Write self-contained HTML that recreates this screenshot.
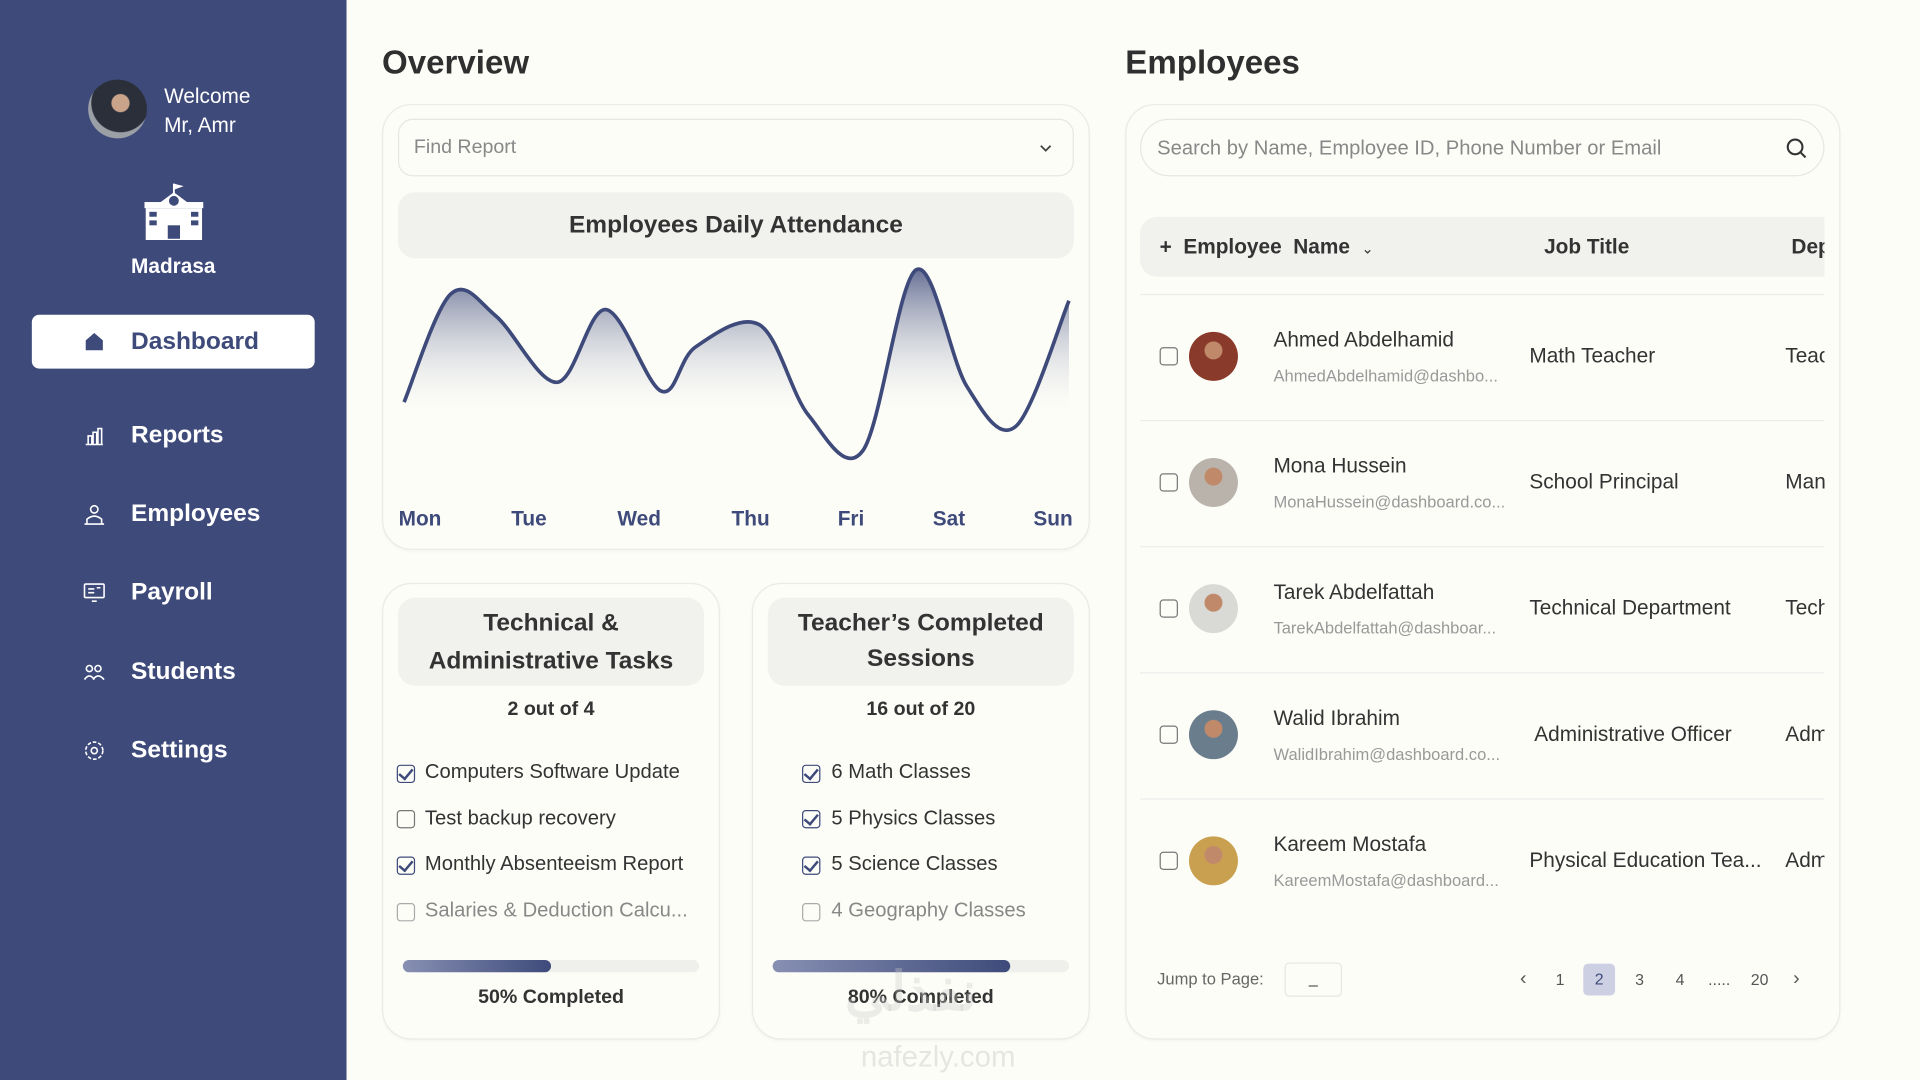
<!DOCTYPE html>
<html><head><meta charset="utf-8">
<style>
*{box-sizing:border-box;margin:0;padding:0}
html,body{width:1920px;height:1080px;overflow:hidden;background:#fdfdf8;font-family:"Liberation Sans",sans-serif}
#root{position:absolute;left:0;top:0;width:1568px;height:882px;transform:scale(1.22449);transform-origin:0 0;background:#fdfdf8}
.abs{position:absolute}
.side{left:0;top:0;width:283px;height:882px;background:#3e4a7a}
.menu{position:absolute;left:107px;color:#fff;font-size:20px;font-weight:bold;transform:translateY(-50%)}
.micon{position:absolute;left:68px;width:18px;height:18px;transform:translateY(-50%);color:#fff}
.card{position:absolute;background:#fdfdf8;border:1.5px solid #ebebe6;border-radius:24px;box-shadow:0 1px 3px rgba(0,0,0,.04)}
.ttl{position:absolute;font-size:27px;font-weight:bold;color:#2f2f2f}
.box{position:absolute;background:#f1f1ee;border-radius:14px;text-align:center;color:#333;font-weight:bold}
.item{position:absolute;font-size:16.5px;color:#333;transform:translateY(-50%)}
.cb{position:absolute;width:15px;height:15px;border:1.5px solid #777;border-radius:3px;transform:translateY(-50%)}
.cbc{border-color:#3e4a7a}
.cbc::after{content:"";position:absolute;left:3px;top:0px;width:5px;height:9px;border:solid #3e4a7a;border-width:0 2px 2px 0;transform:rotate(40deg)}
.pb{position:absolute;height:10px;border-radius:5px;background:#efefec}
.pf{height:10px;border-radius:5px;background:linear-gradient(90deg,#8790b3,#3e4a7a)}
.name{position:absolute;left:1040px;font-size:17px;color:#333;transform:translateY(-50%)}
.mail{position:absolute;left:1040px;font-size:13.5px;color:#999;transform:translateY(-50%)}
.job{position:absolute;left:1249px;font-size:17px;color:#333;transform:translateY(-50%)}
.dep{position:absolute;left:1458px;width:32px;overflow:hidden;white-space:nowrap;font-size:17px;color:#333;transform:translateY(-50%)}
.av{position:absolute;left:971px;width:40px;height:40px;border-radius:50%;transform:translateY(-50%)}
.sep{position:absolute;left:931px;width:559px;height:1px;background:#ececea}
.pg{position:absolute;top:800px;transform:translate(-50%,-50%);font-size:13px;color:#555}
</style></head><body>
<div id="root">
<div class="abs side">
  <div class="abs" style="left:72px;top:65px;width:48px;height:48px;border-radius:50%;background:radial-gradient(circle at 55% 40%,#c9a48a 0 18%,#2b2f3a 20% 60%,#9aa0a6 62%)"></div>
  <div class="abs" style="left:134px;top:67px;color:#fff;font-size:17px;line-height:24px">Welcome<br>Mr, Amr</div>
  <svg class="abs" style="left:116px;top:148px" width="52" height="50" viewBox="0 0 52 50"><path d="M26 2v8" stroke="#fff" stroke-width="1.5"/><path d="M26 2l8 2-8 3z" fill="#fff"/><path d="M14 18L26 9 38 18z" fill="#fff"/><rect x="2" y="17" width="48" height="5" fill="#fff"/><rect x="3" y="22" width="46" height="26" fill="#fff"/><circle cx="26" cy="16" r="4" fill="#3e4a7a"/><rect x="6" y="25" width="6" height="4" fill="#3e4a7a"/><rect x="6" y="32" width="6" height="4" fill="#3e4a7a"/><rect x="40" y="25" width="6" height="4" fill="#3e4a7a"/><rect x="40" y="32" width="6" height="4" fill="#3e4a7a"/><rect x="21" y="36" width="10" height="11" fill="#3e4a7a"/></svg>
  <div class="abs" style="left:0;width:283px;text-align:center;top:208px;color:#fff;font-size:17px;font-weight:bold">Madrasa</div>
  <div class="abs" style="left:26px;top:257px;width:231px;height:44px;background:#fff;border-radius:6px">
    <svg class="abs" style="left:43px;top:14px" width="16" height="16" viewBox="0 0 16 16"><path d="M1 7L8 1l7 6v8H1z" fill="#3e4a7a"/></svg>
    <div class="abs" style="left:81px;top:11px;font-size:20px;font-weight:bold;color:#3e4a7a">Dashboard</div>
  </div>
  <svg class="micon" style="top:356px" viewBox="0 0 18 18"><path d="M2 16h14M4 16V9h3v7M8 16V6h3v10M12 16V3h3v13" stroke="#fff" fill="none" stroke-width="1.3"/></svg>
  <div class="menu" style="top:356px">Reports</div>
  <svg class="micon" style="top:420px" viewBox="0 0 18 18"><circle cx="9" cy="5" r="3" stroke="#fff" fill="none" stroke-width="1.3"/><path d="M3 17v-4q6-5 12 0v4zM1 17h16" stroke="#fff" fill="none" stroke-width="1.3"/></svg>
  <div class="menu" style="top:420px">Employees</div>
  <svg class="micon" style="top:484px" viewBox="0 0 18 18"><rect x="1" y="2" width="16" height="11" rx="1" stroke="#fff" fill="none" stroke-width="1.3"/><path d="M4 6h5M4 9h5M11 5h3M7 16h4" stroke="#fff" stroke-width="1.3"/></svg>
  <div class="menu" style="top:484px">Payroll</div>
  <svg class="micon" style="top:549px" viewBox="0 0 18 18"><circle cx="5" cy="6" r="2.5" stroke="#fff" fill="none" stroke-width="1.3"/><circle cx="12" cy="6" r="2.5" stroke="#fff" fill="none" stroke-width="1.3"/><path d="M1 15q4-6 8 0M8 15q4-6 9 0" stroke="#fff" fill="none" stroke-width="1.3"/></svg>
  <div class="menu" style="top:549px">Students</div>
  <svg class="micon" style="top:613px" viewBox="0 0 18 18"><circle cx="9" cy="9" r="2.5" stroke="#fff" fill="none" stroke-width="1.3"/><circle cx="9" cy="9" r="7" stroke="#fff" fill="none" stroke-width="1.3" stroke-dasharray="3 1.5"/></svg>
  <div class="menu" style="top:613px">Settings</div>
</div>

<div class="ttl" style="left:312px;top:36px">Overview</div>
<div class="card" style="left:312px;top:85px;width:578px;height:364px"></div>
<div class="abs" style="left:325px;top:97px;width:552px;height:47px;border:1.5px solid #e6e6e2;border-radius:12px;background:#fdfdf8">
  <div class="abs" style="left:12px;top:14px;font-size:16px;color:#888">Find Report</div>
  <svg class="abs" style="left:522px;top:18px" width="12" height="10" viewBox="0 0 12 10"><path d="M2 3l4 4 4-4" stroke="#444" fill="none" stroke-width="1.5"/></svg>
</div>
<div class="box" style="left:325px;top:157px;width:552px;height:54px;line-height:54px;font-size:20px">Employees Daily Attendance</div>
<svg class="abs" style="left:0;top:0" width="1568" height="882" id="chart">
  <defs><linearGradient id="g" gradientUnits="userSpaceOnUse" x1="0" y1="215" x2="0" y2="345"><stop offset="0" stop-color="#3e4a7a" stop-opacity=".85"/><stop offset="1" stop-color="#fdfdf8" stop-opacity="0"/></linearGradient></defs>
</svg>

<div class="card" style="left:312px;top:476px;width:276px;height:373px"></div>
<div class="box" style="left:325px;top:488px;width:250px;height:72px;font-size:20px;line-height:31px;padding-top:6px">Technical &amp;<br>Administrative Tasks</div>
<div class="abs" style="left:312px;width:276px;top:571px;text-align:center;font-size:16px;font-weight:bold;color:#333">2 out of 4</div>
<div class="cb cbc" style="left:324px;top:632px"></div><div class="item" style="left:347px;top:631px">Computers Software Update</div>
<div class="cb" style="left:324px;top:669px"></div><div class="item" style="left:347px;top:669px">Test backup recovery</div>
<div class="cb cbc" style="left:324px;top:707px"></div><div class="item" style="left:347px;top:706px">Monthly Absenteeism Report</div>
<div class="cb" style="left:324px;top:745px;border-color:#aaa"></div><div class="item" style="left:347px;top:744px;color:#888">Salaries &amp; Deduction Calcu...</div>
<div class="pb" style="left:329px;top:784px;width:242px"><div class="pf" style="width:50%"></div></div>
<div class="abs" style="left:312px;width:276px;top:806px;text-align:center;font-size:16px;font-weight:bold;color:#333">50% Completed</div>

<div class="card" style="left:614px;top:476px;width:276px;height:373px"></div>
<div class="box" style="left:627px;top:488px;width:250px;height:72px;font-size:20px;line-height:29px;padding-top:7px">Teacher’s Completed<br>Sessions</div>
<div class="abs" style="left:614px;width:276px;top:571px;text-align:center;font-size:16px;font-weight:bold;color:#333">16 out of 20</div>
<div class="cb cbc" style="left:655px;top:632px"></div><div class="item" style="left:679px;top:631px">6 Math Classes</div>
<div class="cb cbc" style="left:655px;top:669px"></div><div class="item" style="left:679px;top:669px">5 Physics Classes</div>
<div class="cb cbc" style="left:655px;top:707px"></div><div class="item" style="left:679px;top:706px">5 Science Classes</div>
<div class="cb" style="left:655px;top:745px;border-color:#aaa"></div><div class="item" style="left:679px;top:744px;color:#888">4 Geography Classes</div>
<div class="pb" style="left:631px;top:784px;width:242px"><div class="pf" style="width:80%"></div></div>
<div class="abs" style="left:614px;width:276px;top:806px;text-align:center;font-size:16px;font-weight:bold;color:#333">80% Completed</div>
<div class="abs" style="left:690px;top:785px;font-size:44px;font-weight:bold;color:rgba(200,200,200,.35)">نفذلي</div>
<div class="abs" style="left:703px;top:850px;font-size:24px;color:rgba(200,200,200,.45)">nafezly.com</div>

<div class="ttl" style="left:919px;top:36px">Employees</div>
<div class="card" style="left:919px;top:85px;width:584px;height:764px"></div>
<div class="abs" style="left:931px;top:97px;width:559px;height:47px;border:1.5px solid #e6e6e2;border-radius:24px">
  <div class="abs" style="left:13px;top:14px;font-size:16.5px;color:#888">Search by Name, Employee ID, Phone Number or Email</div>
  <svg class="abs" style="left:526px;top:14px" width="18" height="18" viewBox="0 0 18 18"><circle cx="8" cy="8" r="6" stroke="#333" fill="none" stroke-width="1.7"/><path d="M12.5 12.5l4 4" stroke="#333" stroke-width="1.7"/></svg>
</div>
<div class="abs" style="left:931px;top:177px;width:559px;height:49px;background:#f1f1ee;border-radius:14px 0 0 14px;overflow:hidden">
  <div class="abs" style="left:16px;top:15px;font-size:17px;font-weight:bold;color:#333">+&nbsp; Employee&nbsp; Name&nbsp; <span style="font-size:12px;font-weight:normal">⌄</span></div>
  <div class="abs" style="left:330px;top:15px;font-size:17px;font-weight:bold;color:#333">Job Title</div>
  <div class="abs" style="left:532px;top:15px;font-size:17px;font-weight:bold;color:#333">Department</div>
</div>
<div class="sep" style="top:240px"></div>
<div id="rows"></div>

<div class="abs" style="left:945px;top:792px;font-size:13.5px;color:#666">Jump to Page:</div>
<div class="abs" style="left:1049px;top:786px;width:47px;height:28px;border:1.5px solid #e6e6e2;border-radius:4px;text-align:center;font-size:13px;line-height:24px;color:#333">_</div>
<div class="pg" style="left:1244px;font-size:16px">‹</div>
<div class="pg" style="left:1274px">1</div>
<div class="pg" style="left:1306px;width:26px;height:26px;background:#cdd0e3;border-radius:4px;text-align:center;line-height:26px;color:#3e4a7a">2</div>
<div class="pg" style="left:1339px">3</div>
<div class="pg" style="left:1372px">4</div>
<div class="pg" style="left:1404px">.....</div>
<div class="pg" style="left:1437px">20</div>
<div class="pg" style="left:1467px;font-size:16px">›</div>
</div>
<script>
const dayLabels=["Mon","Tue","Wed","Thu","Fri","Sat","Sun"];
const pointT=[0,0.42,0.83,1.38,1.82,2.32,2.63,3.21,3.65,4.14,4.62,5.08,5.52,6.0];
const pointV=[37,86,76,46,79,42,62,72,31,15,97,44,26,83];
const labelX=[343,432,522,613,695,775,860];
const NS="http://www.w3.org/2000/svg";
const svg=document.getElementById('chart');
const xS=t=>330+t*(873-330)/6;
const yS=v=>395-v*1.8;
const P=pointT.map((t,i)=>[xS(t),yS(pointV[i])]);
let d="M"+P[0][0]+","+P[0][1];
for(let i=0;i<P.length-1;i++){
  const p0=P[Math.max(0,i-1)],p1=P[i],p2=P[i+1],p3=P[Math.min(P.length-1,i+2)];
  const c1=[p1[0]+(p2[0]-p0[0])/6,p1[1]+(p2[1]-p0[1])/6];
  const c2=[p2[0]-(p3[0]-p1[0])/6,p2[1]-(p3[1]-p1[1])/6];
  d+=` C${c1[0]},${c1[1]} ${c2[0]},${c2[1]} ${p2[0]},${p2[1]}`;
}
const area=document.createElementNS(NS,'path');
area.setAttribute('d',d+` L${P[P.length-1][0]},400 L${P[0][0]},400 Z`);
area.setAttribute('fill','url(#g)');


svg.appendChild(area);
const line=document.createElementNS(NS,'path');
line.setAttribute('d',d);line.setAttribute('fill','none');line.setAttribute('stroke','#3e4a7a');line.setAttribute('stroke-width','3');


svg.appendChild(line);
dayLabels.forEach((l,i)=>{
  const t=document.createElementNS(NS,'text');
  t.setAttribute('x',labelX[i]);t.setAttribute('y',429);t.setAttribute('text-anchor','middle');
  t.setAttribute('font-size','17');t.setAttribute('font-weight','bold');t.setAttribute('fill','#3e4a7a');
  t.setAttribute('font-family','Liberation Sans, sans-serif');
  t.textContent=l;
  
  
  svg.appendChild(t);
});
const emps=[
 ["Ahmed Abdelhamid","AhmedAbdelhamid@dashbo...","Math Teacher","Teacher","#8a3a2a"],
 ["Mona Hussein","MonaHussein@dashboard.co...","School Principal","Management","#b9b3ab"],
 ["Tarek Abdelfattah","TarekAbdelfattah@dashboar...","Technical Department","Technical","#d9d9d6"],
 ["Walid Ibrahim","WalidIbrahim@dashboard.co...","Administrative Officer","Admin","#6a7d8c"],
 ["Kareem Mostafa","KareemMostafa@dashboard...","Physical Education Tea...","Admin","#c9a050"]];
const rows=document.getElementById('rows');
emps.forEach((e,i)=>{
  const c=291+i*103;
  const h=`<div class="cb" style="left:947px;top:${c}px"></div>
  <div class="av" style="top:${c}px;background:radial-gradient(circle at 50% 38%,#c08a6a 0 22%,${e[4]} 24%)"></div>
  <div class="name" style="top:${c-13}px">${e[0]}</div>
  <div class="mail" style="top:${c+16}px">${e[1]}</div>
  <div class="job" style="top:${c}px;${i==3?'left:1253px':''}">${e[2]}</div>
  <div class="dep" style="top:${c}px">${e[3]}</div>
  ${i<4?`<div class="sep" style="top:${c+52}px"></div>`:''}`;
  rows.insertAdjacentHTML('beforeend',h);
});
</script>
</body></html>
